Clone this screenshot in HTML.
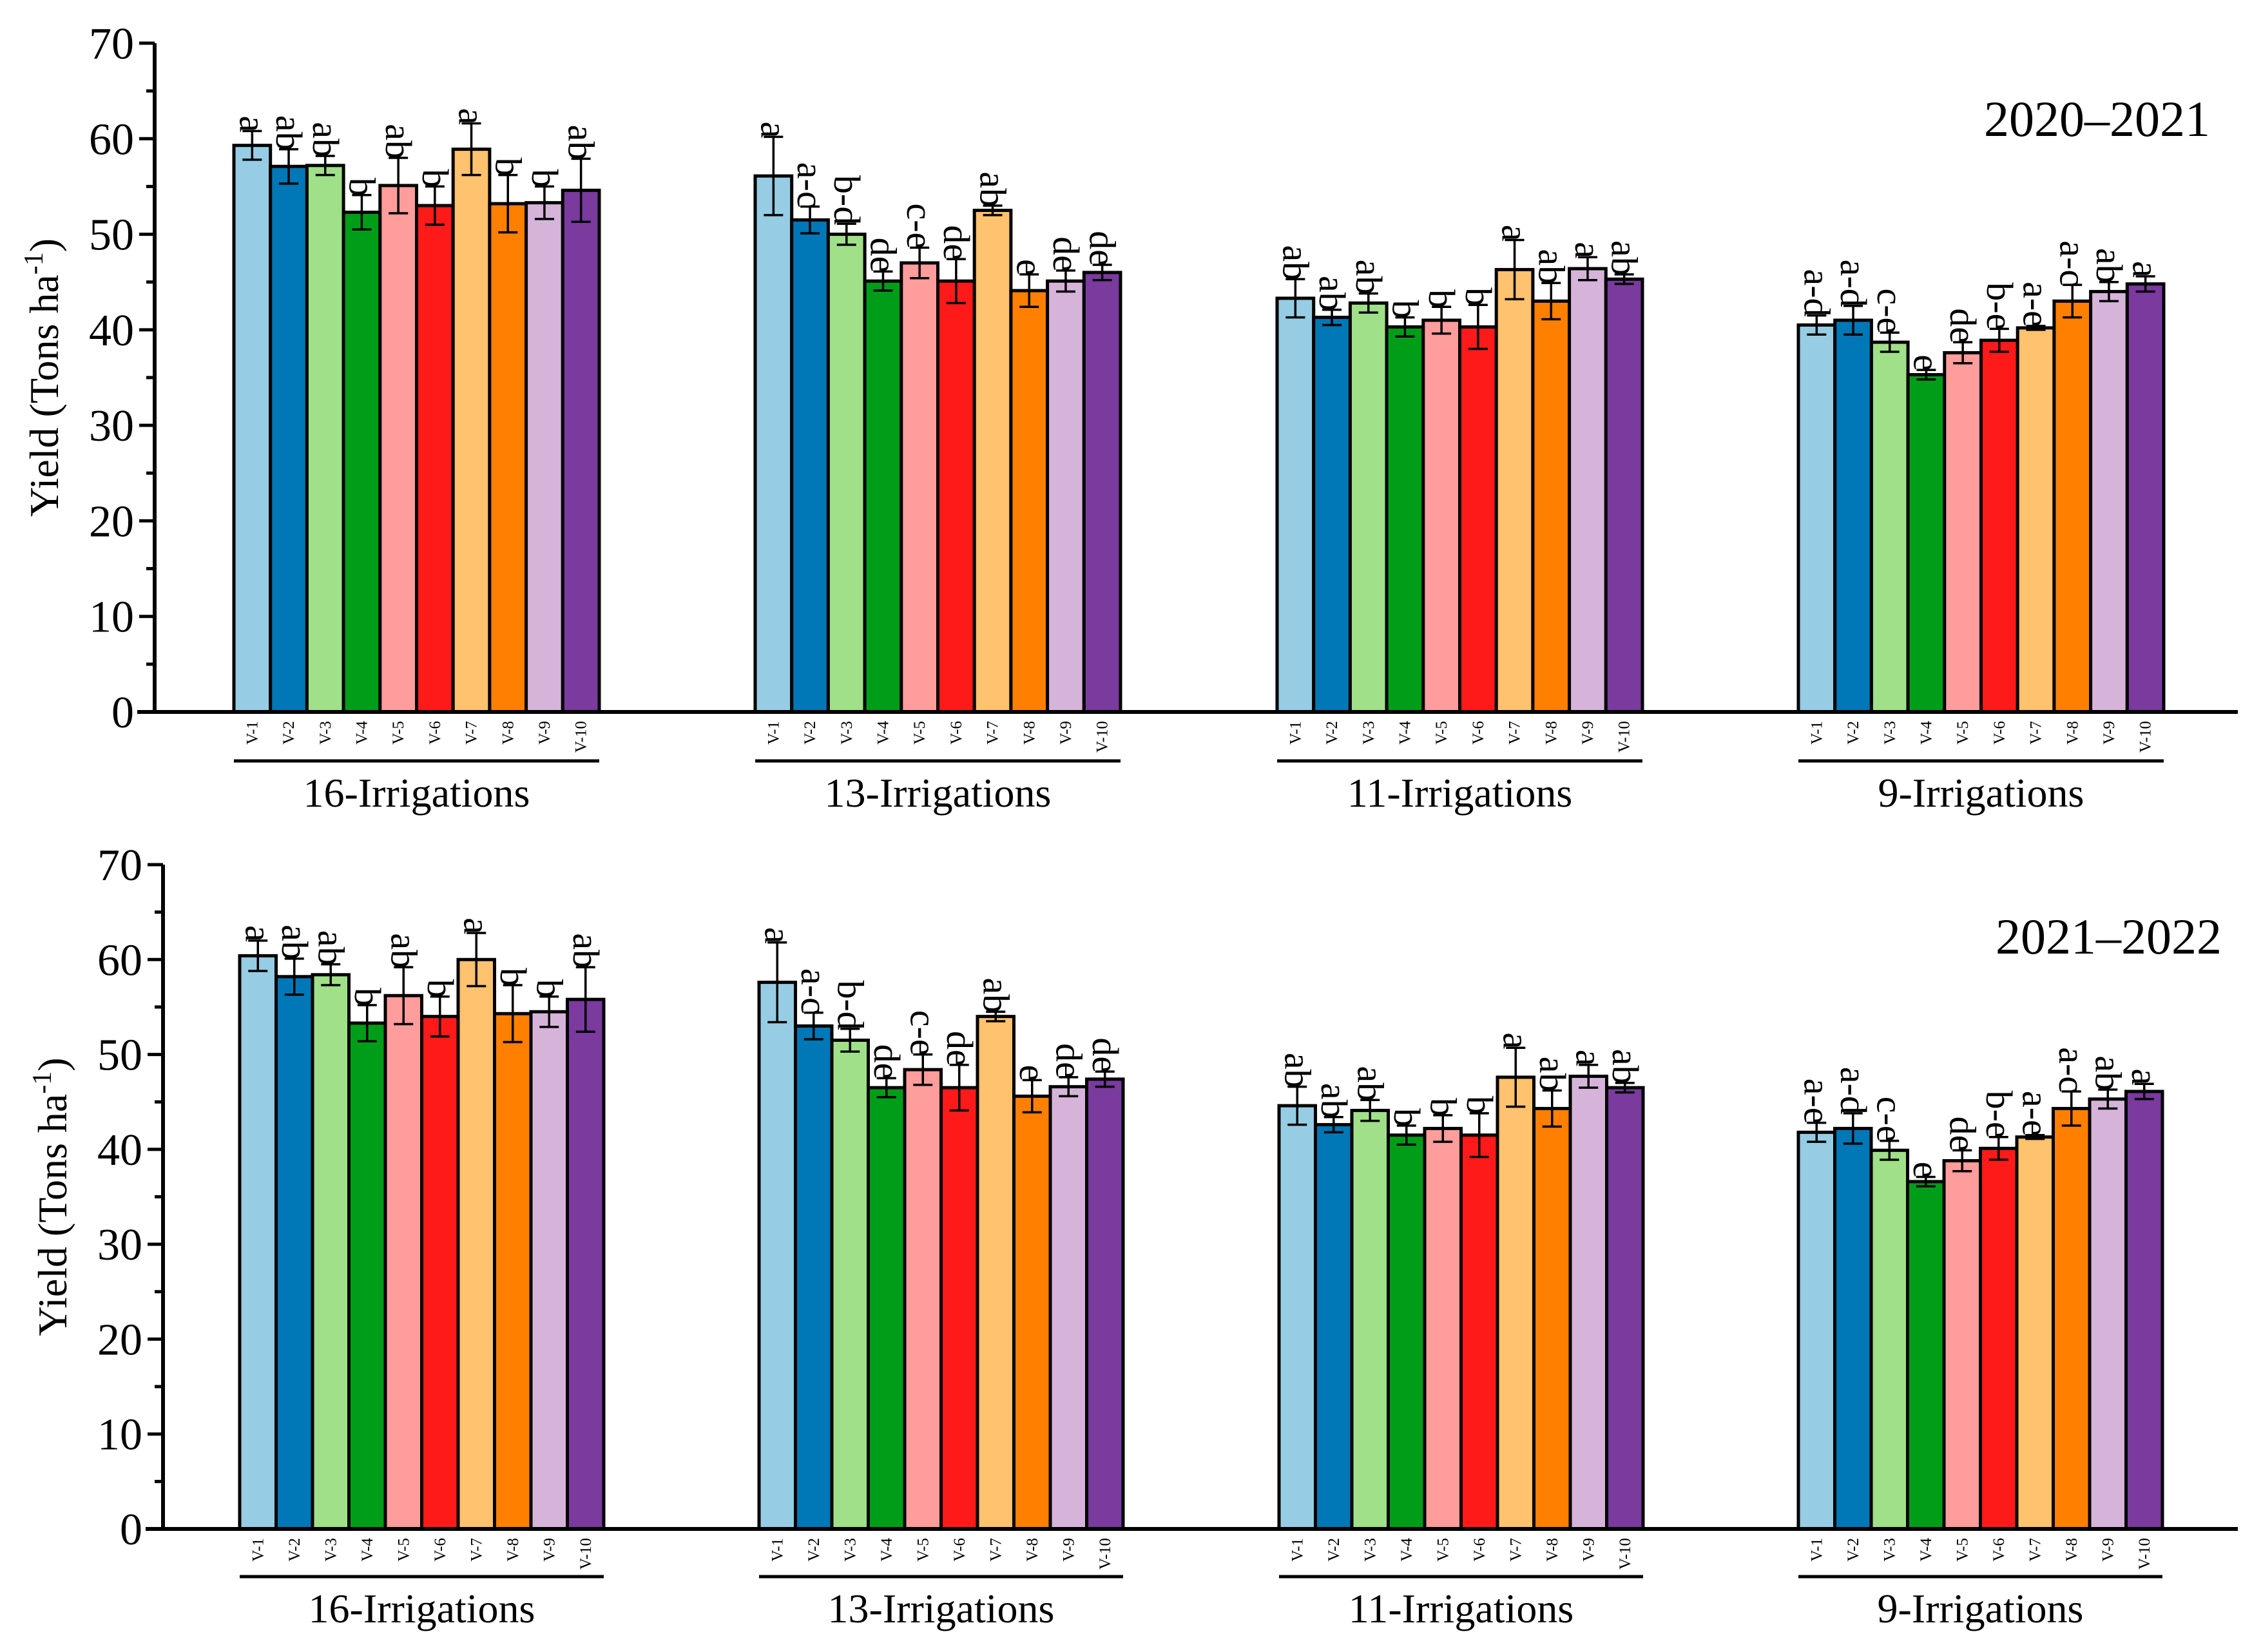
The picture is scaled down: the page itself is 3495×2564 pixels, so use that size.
<!DOCTYPE html>
<html><head><meta charset="utf-8"><style>
html,body{margin:0;padding:0;background:#fff;}
svg{display:block;}
svg text{font-family:"Liberation Serif","Times New Roman",serif;}
</style></head><body>
<svg id="chart" width="3495" height="2564" viewBox="0 0 3495 2564" xmlns="http://www.w3.org/2000/svg"></svg>
<script>
const groups = ["16-Irrigations","13-Irrigations","11-Irrigations","9-Irrigations"];
const varieties = ["V-1","V-2","V-3","V-4","V-5","V-6","V-7","V-8","V-9","V-10"];
const colors = ["#96cde4","#0077b6","#a0e088","#009e18","#ff9c9c","#ff1a1a","#ffc26e","#ff8000","#d6b4da","#7a3a9e"];
const yTicks = [0,10,20,30,40,50,60,70];
const years = ["2020–2021","2021–2022"];

const vals2021 = [
 [59.3,57.1,57.2,52.3,55.1,53.0,58.9,53.2,53.3,54.6],
 [56.1,51.5,50.0,45.1,47.0,45.1,52.5,44.1,45.1,46.0],
 [43.3,41.3,42.8,40.3,41.0,40.3,46.3,43.0,46.4,45.3],
 [40.5,41.0,38.7,35.3,37.6,38.9,40.2,43.0,44.0,44.8]];
const errs2021 = [
 [1.5,1.8,1.0,1.8,2.9,2.0,2.7,3.0,1.7,3.3],
 [4.1,1.4,1.1,1.0,1.6,2.3,0.5,1.7,1.1,0.8],
 [2.0,0.8,1.0,1.0,1.4,2.3,3.1,1.9,1.2,0.5],
 [1.0,1.5,1.0,0.5,1.1,1.2,0.2,1.7,1.0,0.8]];
const vals2022 = [
 [60.4,58.2,58.4,53.3,56.2,54.0,60.0,54.3,54.5,55.8],
 [57.6,53.0,51.5,46.5,48.4,46.5,54.0,45.6,46.6,47.4],
 [44.6,42.6,44.1,41.5,42.2,41.5,47.6,44.3,47.7,46.5],
 [41.8,42.2,39.9,36.6,38.8,40.1,41.3,44.3,45.3,46.1]];
const errs2022 = [
 [1.6,1.9,1.1,1.9,3.0,2.1,2.8,3.0,1.6,3.4],
 [4.2,1.4,1.2,1.0,1.6,2.4,0.5,1.7,1.0,0.8],
 [2.0,0.8,1.1,1.0,1.4,2.3,3.1,1.9,1.2,0.5],
 [1.0,1.6,1.0,0.5,1.1,1.2,0.2,1.8,1.0,0.8]];
const letters2021 = [
 ["a","ab","ab","b","ab","b","a","b","b","ab"],
 ["a","a-c","b-d","de","c-e","de","ab","e","de","de"],
 ["ab","ab","ab","b","b","b","a","ab","a","ab"],
 ["a-d","a-d","c-e","e","de","b-e","a-e","a-c","ab","a"]];
const letters2022 = [
 ["a","ab","ab","b","ab","b","a","b","b","ab"],
 ["a","a-c","b-d","de","c-e","de","ab","e","de","de"],
 ["ab","ab","ab","b","b","b","a","ab","a","ab"],
 ["a-e","a-d","c-e","e","de","b-e","a-e","a-c","ab","a"]];

const NS="http://www.w3.org/2000/svg";
const svg=document.getElementById('chart');
function mk(tag,attrs,parent,text){const e=document.createElementNS(NS,tag);for(const k in attrs)e.setAttribute(k,attrs[k]);if(text!==undefined)e.textContent=text;(parent||svg).appendChild(e);return e;}

const panels=[
 {axisX:240,y0:1105,y70:67,xLeft:213,xRight:3473,groupX:[363,1172,1982,2791],groupW:567,vals:vals2021,errs:errs2021,letters:letters2021,year:years[0],yearX:3430,yearY:211,uline:1181,glabel:1252,title:'panel-2020-2021'},
 {axisX:253,y0:2373,y70:1342,xLeft:226,xRight:3473,groupX:[372,1178,1985,2791],groupW:565,vals:vals2022,errs:errs2022,letters:letters2022,year:years[1],yearX:3448,yearY:1480,uline:2447,glabel:2518,title:'panel-2021-2022'}
];

panels.forEach(p=>{
  const g=mk('g',{});
  
  
  const ys=v=>p.y0-(v/70)*(p.y0-p.y70);
  const bw=p.groupW/10;
  p.vals.forEach((arr,gi)=>{
    arr.forEach((v,i)=>{
      const x=p.groupX[gi]+i*bw;
      const r=mk('rect',{x:x,y:ys(v),width:bw,height:p.y0-ys(v),fill:colors[i],stroke:'#000','stroke-width':5},g);
      
      
      const cx=x+bw/2, e=p.errs[gi][i];
      const eb=mk('path',{d:`M${cx-15},${ys(v+e)}H${cx+15}M${cx},${ys(v+e)}V${ys(v-e)}M${cx-15},${ys(v-e)}H${cx+15}`,stroke:'#000','stroke-width':3.5,fill:'none'},g);
      
      
      const ty=ys(v+e)+2;
      const t=mk('text',{x:0,y:0,'font-size':58,'text-anchor':'end',transform:`translate(${cx-19},${ty}) rotate(90)`},g,p.letters[gi][i]);
      
      
      const vl=mk('text',{x:0,y:0,'font-size':25,'text-anchor':'end',transform:`translate(${cx+8},${p.y0+14}) rotate(-90)`},g,varieties[i]);
      
      
    });
    const ul=mk('line',{x1:p.groupX[gi],x2:p.groupX[gi]+p.groupW,y1:p.uline,y2:p.uline,stroke:'#000','stroke-width':5},g);
    
    
    const gl=mk('text',{x:p.groupX[gi]+p.groupW/2,y:p.glabel,'font-size':64,'text-anchor':'middle'},g,groups[gi]);
    
    
  });
  const ax=mk('line',{x1:p.xLeft,x2:p.xRight,y1:p.y0,y2:p.y0,stroke:'#000','stroke-width':6},g);
  
  
  const ay=mk('line',{x1:p.axisX,x2:p.axisX,y1:p.y0+3,y2:p.y70,stroke:'#000','stroke-width':6},g);
  
  
  yTicks.forEach(t=>{
    const tk=mk('line',{x1:p.axisX-24,x2:p.axisX,y1:ys(t),y2:ys(t),stroke:'#000','stroke-width':5},g);
    
    
    const tl=mk('text',{x:p.axisX-32,y:ys(t)+24,'font-size':70,'text-anchor':'end'},g,String(t));
    
    
    if(t<70){
      const mt=mk('line',{x1:p.axisX-13,x2:p.axisX,y1:ys(t+5),y2:ys(t+5),stroke:'#000','stroke-width':5},g);
      
      
    }
  });
  const yt=mk('text',{x:0,y:0,'font-size':64,'text-anchor':'middle',transform:`translate(${p.axisX-150},${ys(35)}) rotate(-90)`},g);
  
  
  yt.appendChild(document.createTextNode('Yield (Tons ha'));
  mk('tspan',{'font-size':42,dy:-24},yt,'-1');
  mk('tspan',{'font-size':64,dy:24},yt,')');
  const yr=mk('text',{x:p.yearX,y:p.yearY,'font-size':78,'text-anchor':'end'},g,p.year);
  
  
});
</script>
</body></html>
